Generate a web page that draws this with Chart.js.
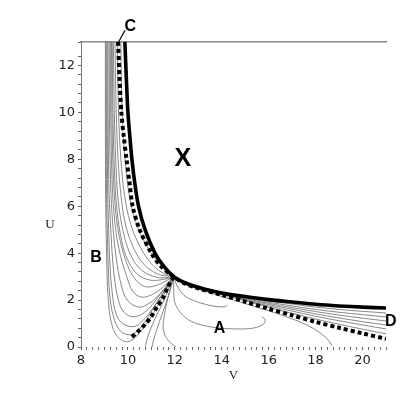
<!DOCTYPE html>
<html>
<head>
<meta charset="utf-8">
<script src="https://cdn.jsdelivr.net/npm/chart.js@4.4.1/dist/chart.umd.min.js"></script>
<style>
  html, body { margin: 0; padding: 0; background: #fff; }
  #wrap { width: 407px; height: 407px; }
</style>
</head>
<body>
<div id="wrap"><canvas id="phase" width="407" height="407"></canvas></div>
<script>
'use strict';
// ***** DATA (pairs are [V, U]) *****
const vTicks = [8, 10, 12, 14, 16, 18, 20];
const uTicks = [0, 2, 4, 6, 8, 10, 12];

// thick solid trajectory
const solidCurve = [[9.87, 13], [9.93, 11.5], [10.0, 10], [10.08, 9], [10.17, 8], [10.29, 7], [10.45, 6],
  [10.73, 5], [11.15, 4], [11.5, 3.48], [11.95, 3.0], [12.4, 2.75], [13, 2.55],
  [14, 2.3], [15, 2.15], [16, 2.02], [17, 1.92], [18, 1.82], [19, 1.75], [20, 1.7], [21, 1.66]];

// dotted separatrix, C -> saddle -> D
const dottedCD = [[9.58, 13], [9.64, 11.5], [9.72, 10], [9.82, 9], [9.94, 8], [10.07, 7], [10.2, 6],
  [10.5, 5], [11.0, 4], [11.4, 3.45], [11.95, 3.0], [12.4, 2.72], [13, 2.5],
  [14, 2.22], [15, 1.93], [16, 1.63], [17, 1.35], [18, 1.07], [19, 0.82], [20, 0.58], [21, 0.35]];

// dotted separatrix, saddle -> bottom left
const dottedLow = [[11.95, 3.0], [11.7, 2.56], [11.5, 2.1], [11.23, 1.7], [11.0, 1.3], [10.75, 0.98],
  [10.5, 0.73], [10.28, 0.52], [10.1, 0.38]];

// thin flows coming down from the top into the saddle
const upperFlows = [
  [[9.7, 13], [9.75, 10], [9.88, 8], [10.05, 6.5], [10.35, 5.3], [10.75, 4.4], [11.3, 3.6], [11.95, 3.0]],
  [[9.55, 13], [9.6, 10], [9.7, 8], [9.85, 6.5], [10.1, 5.3], [10.5, 4.3], [11.0, 3.55], [11.5, 3.15], [11.95, 3.0]],
  [[9.45, 13], [9.5, 10], [9.58, 8], [9.7, 6.5], [9.9, 5.2], [10.25, 4.2], [10.7, 3.5], [11.3, 3.1], [11.95, 3.0]],
  [[9.38, 13], [9.42, 10], [9.48, 8], [9.58, 6.3], [9.78, 5.0], [10.08, 4.0], [10.5, 3.35], [11.1, 3.0], [11.6, 2.95], [11.95, 3.0]],
  [[9.33, 13], [9.36, 10], [9.41, 8], [9.5, 6.2], [9.68, 4.8], [9.95, 3.8], [10.4, 3.1], [10.95, 2.85], [11.5, 2.88], [11.95, 3.0]]
];

// thin U shaped flows on the left, plus the ones reaching the V axis
const lowerFlows = [
  [[9.3, 13], [9.33, 9], [9.42, 6.5], [9.58, 5], [9.9, 3.7], [10.3, 2.9], [10.75, 2.57], [11.3, 2.66], [11.95, 3.0]],
  [[9.25, 13], [9.28, 9], [9.35, 6.5], [9.48, 5], [9.68, 3.9], [9.95, 3.0], [10.2, 2.38], [10.55, 2.13], [11.0, 2.22], [11.5, 2.55], [11.95, 3.0]],
  [[9.2, 13], [9.22, 9], [9.28, 6.5], [9.37, 5], [9.5, 3.8], [9.7, 2.7], [9.97, 2.0], [10.45, 1.7], [10.9, 1.86], [11.4, 2.3], [11.95, 3.0]],
  [[9.15, 13], [9.16, 9], [9.2, 6.5], [9.27, 5], [9.35, 3.7], [9.49, 2.5], [9.7, 1.68], [10.0, 1.35], [10.35, 1.3], [10.8, 1.55], [11.3, 2.15], [11.95, 3.0]],
  [[9.11, 13], [9.12, 9], [9.14, 6.5], [9.18, 5], [9.23, 3.6], [9.32, 2.4], [9.5, 1.4], [9.8, 0.98], [10.3, 0.88], [10.75, 1.25], [11.3, 2.0], [11.95, 3.0]],
  [[9.07, 13], [9.08, 9], [9.09, 6.5], [9.12, 5], [9.16, 3.5], [9.22, 2.3], [9.38, 1.3], [9.7, 0.66], [10.15, 0.53], [10.6, 0.9], [11.2, 1.85], [11.95, 3.0]],
  [[9.04, 13], [9.04, 9], [9.05, 6.5], [9.07, 5], [9.1, 3.5], [9.15, 2.2], [9.28, 1.1], [9.55, 0.45], [10.0, 0.22], [10.4, 0.5], [10.9, 1.15], [11.4, 2.0], [11.95, 3.0]],
  [[11.95, 3.0], [11.7, 2.4], [11.45, 1.8], [11.15, 1.2], [10.9, 0.6], [10.78, 0.2], [10.75, 0.02]],
  [[11.95, 3.0], [11.8, 2.4], [11.6, 1.8], [11.35, 1.1], [11.15, 0.5], [11.05, 0.1], [11.03, 0.0]],
  [[11.95, 3.0], [11.75, 2.3], [11.6, 1.6], [11.5, 0.9], [11.6, 0.45], [11.85, 0.15], [12.05, 0.0]]
];

// thin fan between the solid curve and the dotted one, towards D
const fanFlows = [
  [[11.95, 3.0], [12.4, 2.75], [13, 2.55], [14, 2.29], [15, 2.11], [16, 1.96], [17, 1.83], [18, 1.70], [19, 1.60], [20, 1.52], [21, 1.45]],
  [[11.95, 3.0], [12.4, 2.75], [13, 2.54], [14, 2.28], [15, 2.09], [16, 1.91], [17, 1.75], [18, 1.60], [19, 1.48], [20, 1.38], [21, 1.28]],
  [[11.95, 3.0], [12.4, 2.74], [13, 2.54], [14, 2.27], [15, 2.06], [16, 1.86], [17, 1.68], [18, 1.51], [19, 1.36], [20, 1.23], [21, 1.11]],
  [[11.95, 3.0], [12.4, 2.74], [13, 2.54], [14, 2.26], [15, 2.03], [16, 1.81], [17, 1.61], [18, 1.41], [19, 1.24], [20, 1.08], [21, 0.94]],
  [[11.95, 3.0], [12.4, 2.73], [13, 2.54], [14, 2.25], [15, 2.0], [16, 1.75], [17, 1.53], [18, 1.31], [19, 1.12], [20, 0.94], [21, 0.77]],
  [[11.95, 3.0], [12.4, 2.73], [13, 2.53], [14, 2.23], [15, 1.97], [16, 1.69], [17, 1.44], [18, 1.19], [19, 0.97], [20, 0.76], [21, 0.56]],
  [[11.95, 3.0], [12.4, 2.7], [13, 2.47], [14, 2.15], [15, 1.85], [16, 1.54], [17, 1.2], [17.6, 0.95], [18.2, 0.6], [18.55, 0.28], [18.7, 0.05]]
];

// thin loops below the saddle (around A)
const loopFlows = [
  [[11.95, 3.0], [12.1, 2.6], [12.4, 2.2], [12.8, 1.98], [13.3, 1.82], [13.8, 1.72], [14.15, 1.72], [14.25, 1.8]],
  [[11.95, 3.0], [11.95, 2.5], [12.0, 1.9], [12.25, 1.45], [12.6, 1.15], [13.1, 0.95], [13.8, 0.82], [14.6, 0.77],
    [15.3, 0.8], [15.75, 0.95], [15.85, 1.15], [15.7, 1.3]]
];

// region letters, placed in (V, U)
const labelNames = ['A', 'B', 'C', 'D', 'X'];
const labelV = [13.9, 8.64, 10.1, 21.2, 12.34];
const labelU = [0.8, 3.8, 13.65, 1.07, 8.0];
// little pointer from C to the dotted curve
const pointerC = [[9.6, 13], [9.88, 13.5]];

// ***** HELPERS *****
function toPoints(pairs) {
  return pairs.map((p) => ({ x: p[0], y: p[1] }));
}

function thinSet(pairs) {
  return {
    data: toPoints(pairs),
    showLine: true,
    borderColor: '#6a6a6a',
    borderWidth: 0.8,
    pointRadius: 0,
    tension: 0.35,
    order: 3
  };
}

function isTick(value, list) {
  return list.some((t) => Math.abs(t - value) < 1e-6);
}

// ***** LABEL PLUGIN *****
const letterPlugin = {
  id: 'letters',
  afterDraw(chart) {
    const c = chart.ctx;
    const xs = chart.scales.x;
    const ys = chart.scales.y;
    c.save();
    c.fillStyle = '#000';
    c.textAlign = 'center';
    c.textBaseline = 'middle';
    labelNames.forEach((name, i) => {
      c.font = name === 'X' ? 'bold 25px "Liberation Sans"' : 'bold 16px "Liberation Sans"';
      c.fillText(name, xs.getPixelForValue(labelV[i]), ys.getPixelForValue(labelU[i]));
    });
    // pointer for C
    c.strokeStyle = '#000';
    c.lineWidth = 1.2;
    c.beginPath();
    c.moveTo(xs.getPixelForValue(pointerC[0][0]), ys.getPixelForValue(pointerC[0][1]));
    c.lineTo(xs.getPixelForValue(pointerC[1][0]), ys.getPixelForValue(pointerC[1][1]));
    c.stroke();
    // axis names, upright like the original
    c.font = '13px "Liberation Serif"';
    c.fillStyle = '#222';
    c.fillText('U', chart.chartArea.left - 31, ys.getPixelForValue(5.2));
    c.fillText('V', (chart.chartArea.left + chart.chartArea.right) / 2, chart.chartArea.bottom + 29);
    c.restore();
  }
};

// ***** DATASETS *****
let datasets = [
  {
    data: toPoints(solidCurve), showLine: true, borderColor: '#000', borderWidth: 3.6,
    pointRadius: 0, tension: 0.3, order: 0
  },
  {
    data: toPoints(dottedCD), showLine: true, borderColor: '#000', borderWidth: 4,
    borderDash: [4, 3], borderCapStyle: 'butt', pointRadius: 0, tension: 0.3, order: 1
  },
  {
    data: toPoints(dottedLow), showLine: true, borderColor: '#000', borderWidth: 4,
    borderDash: [4, 3], borderCapStyle: 'butt', pointRadius: 0, tension: 0.3, order: 1
  }
];
[upperFlows, lowerFlows, fanFlows, loopFlows].forEach((group) => {
  group.forEach((curve) => datasets.push(thinSet(curve)));
});

// ***** CHART *****
let ctx = document.getElementById('phase');

new Chart(ctx, {
  type: 'scatter',
  data: { datasets: datasets },
  options: {
    responsive: false,
    animation: false,
    events: [],
    layout: { padding: { top: 42, right: 21, left: 0, bottom: 0 } },
    plugins: { legend: { display: false }, tooltip: { enabled: false } },
    scales: {
      x: {
        type: 'linear', position: 'bottom', min: 8, max: 21,
        ticks: {
          stepSize: 0.25, autoSkip: false, maxRotation: 0, padding: 3,
          color: '#222', font: { family: 'DejaVu Sans', size: 13 },
          callback: (v) => (isTick(v, vTicks) ? String(v) : '')
        },
        grid: {
          drawOnChartArea: false, tickLength: 3, color: '#555',
          lineWidth: (c) => (c.tick && isTick(c.tick.value, vTicks) ? 1 : 0.9)
        },
        border: { display: false },
        afterFit: (s) => { s.height = 60; }
      },
      top: {
        type: 'linear', axis: 'x', position: 'top', min: 8, max: 21,
        ticks: { display: false },
        grid: { display: false, drawTicks: false },
        border: { color: '#888', width: 1.5 },
        afterFit: (s) => { s.height = 0; }
      },
      y: {
        type: 'linear', position: 'left', min: 0, max: 13,
        ticks: {
          stepSize: 0.4, autoSkip: false, padding: 3,
          color: '#222', font: { family: 'DejaVu Sans', size: 13 },
          callback: (v) => (isTick(v, uTicks) ? String(Math.round(v)) : '')
        },
        grid: { drawOnChartArea: false, tickLength: 3, color: '#666' },
        border: { color: '#777', width: 1 },
        afterFit: (s) => { s.width = 81; }
      }
    }
  },
  plugins: [letterPlugin]
});
</script>
</body>
</html>
